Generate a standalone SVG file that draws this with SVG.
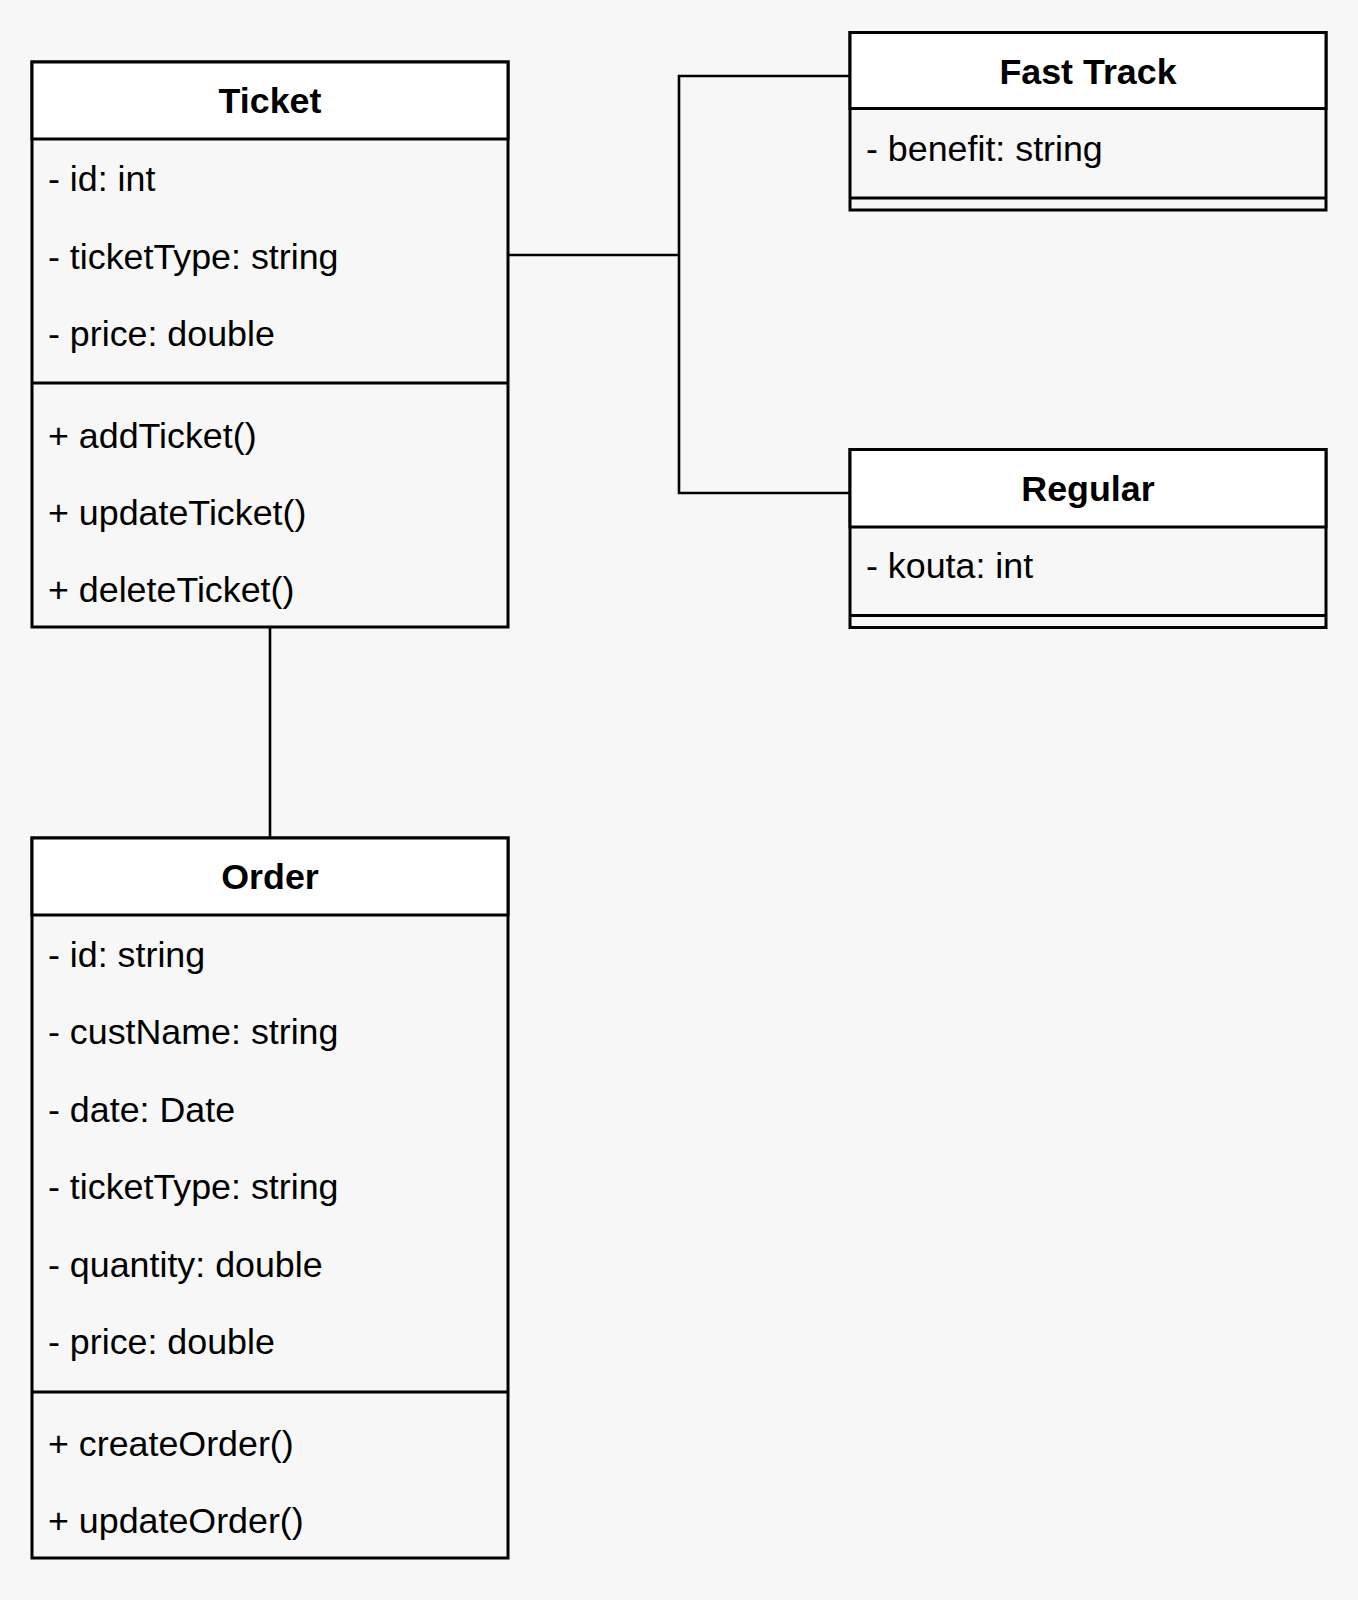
<svg xmlns="http://www.w3.org/2000/svg" width="1358" height="1600" viewBox="0 0 1358 1600">
  <style>
    .body { fill: #f7f7f7; stroke: #000; stroke-width: 3; }
    .head { fill: #ffffff; stroke: #000; stroke-width: 3; }
    .sep { stroke: #000; stroke-width: 3; }
    .title { font-family: "Liberation Sans", Arial, Helvetica, sans-serif; font-size: 35.8px; font-weight: bold; text-anchor: middle; fill: #000; }
    .row { font-family: "Liberation Sans", Arial, Helvetica, sans-serif; font-size: 35.8px; fill: #000; }
    .link { fill: none; stroke: #000; stroke-width: 2.6; }
  </style>

  <rect x="0" y="0" width="1358" height="1600" fill="#f7f7f7"/>

  <!-- associations -->
  <g id="connectors">
    <polyline class="link" points="508,255 679,255"/>
    <polyline class="link" points="850,76 679,76 679,493 850,493"/>
    <line class="link" x1="270" y1="627" x2="270" y2="838"/>
  </g>

  <!-- Ticket class -->
  <g id="ticket">
    <rect class="body" x="32" y="62" width="476" height="565"/>
    <rect class="head" x="32" y="62" width="476" height="77"/>
    <line class="sep" x1="32" y1="383" x2="508" y2="383"/>
    <text class="title" x="270" y="113">Ticket</text>
    <text class="row" x="48" y="191">- id: int</text>
    <text class="row" x="48" y="268.5">- ticketType: string</text>
    <text class="row" x="48" y="346">- price: double</text>
    <text class="row" x="48" y="448">+ addTicket()</text>
    <text class="row" x="48" y="525">+ updateTicket()</text>
    <text class="row" x="48" y="602">+ deleteTicket()</text>
  </g>

  <!-- Fast Track class -->
  <g id="fast-track">
    <rect class="body" x="850" y="32.5" width="476" height="177.5"/>
    <rect class="head" x="850" y="32.5" width="476" height="76"/>
    <line class="sep" x1="850" y1="198" x2="1326" y2="198"/>
    <text class="title" x="1088" y="83.5">Fast Track</text>
    <text class="row" x="866" y="160.5">- benefit: string</text>
  </g>

  <!-- Regular class -->
  <g id="regular">
    <rect class="body" x="850" y="449.5" width="476" height="178"/>
    <rect class="head" x="850" y="449.5" width="476" height="77.5"/>
    <line class="sep" x1="850" y1="615.5" x2="1326" y2="615.5"/>
    <text class="title" x="1088" y="501">Regular</text>
    <text class="row" x="866" y="578">- kouta: int</text>
  </g>

  <!-- Order class -->
  <g id="order">
    <rect class="body" x="32" y="838" width="476" height="720"/>
    <rect class="head" x="32" y="838" width="476" height="77"/>
    <line class="sep" x1="32" y1="1392" x2="508" y2="1392"/>
    <text class="title" x="270" y="889">Order</text>
    <text class="row" x="48" y="966.5">- id: string</text>
    <text class="row" x="48" y="1044">- custName: string</text>
    <text class="row" x="48" y="1121.5">- date: Date</text>
    <text class="row" x="48" y="1199">- ticketType: string</text>
    <text class="row" x="48" y="1276.5">- quantity: double</text>
    <text class="row" x="48" y="1354">- price: double</text>
    <text class="row" x="48" y="1456">+ createOrder()</text>
    <text class="row" x="48" y="1533">+ updateOrder()</text>
  </g>
</svg>
